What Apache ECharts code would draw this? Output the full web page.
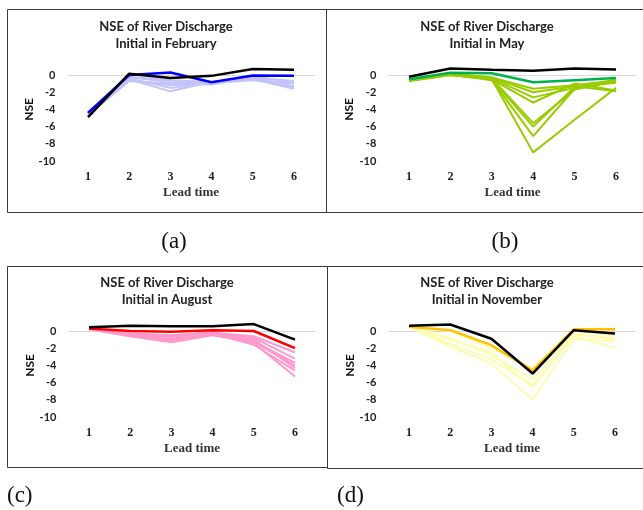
<!DOCTYPE html>
<html>
<head>
<meta charset="utf-8">
<script src="https://cdn.jsdelivr.net/npm/echarts@6/dist/echarts.min.js"></script>
<style>
html,body{margin:0;padding:0;background:#fff;}
#chart{width:643px;height:510px;}
</style>
</head>
<body>
<div id="chart"></div>
<script>
// ---------- data ----------
const categories = ['1', '2', '3', '4', '5', '6'];
const yTickLabels = [0, -2, -4, -6, -8, -10];

// (a) February
const febBlack = [-4.9, 0.15, -0.35, -0.1, 0.7, 0.6];
const febBlue = [-4.4, 0.0, 0.3, -0.85, -0.05, -0.1];
const febMember1 = [-4.4, -0.3, -0.8, -0.9, -0.3, -0.7];
const febMember2 = [-4.5, -0.5, -1.9, -0.8, -0.5, -1.6];
const febMember3 = [-4.6, -0.6, -1.2, -1.0, -0.4, -1.3];
const febMember4 = [-4.3, -0.4, -1.5, -0.9, -0.6, -1.0];
const febMember5 = [-4.7, -0.7, -1.0, -1.1, -0.3, -1.4];
const febMember6 = [-4.5, -0.2, -0.6, -0.8, -0.2, -0.9];

// (b) May
const mayBlack = [-0.2, 0.75, 0.6, 0.5, 0.75, 0.65];
const mayGreen = [-0.5, 0.25, 0.2, -0.85, -0.6, -0.35];
const mayMember1 = [-0.6, 0.1, -0.3, -1.6, -1.2, -0.6];
const mayMember2 = [-0.7, 0.0, -0.4, -2.6, -1.5, -0.8];
const mayMember3 = [-0.6, 0.2, -0.5, -3.2, -1.0, -1.8];
const mayMember4 = [-0.5, 0.1, -0.4, -5.6, -1.7, -0.7];
const mayMember5 = [-0.7, 0.0, -0.5, -6.0, -1.4, -0.9];
const mayMember6 = [-0.6, 0.1, -0.6, -7.1, -1.6, -0.5];
const mayMember7 = [-0.6, 0.0, -0.5, -9.0, -5.2, -1.5];
const mayMember8 = [-0.5, 0.2, -0.3, -2.0, -1.3, -1.9];

// (c) August
const augBlack = [0.45, 0.6, 0.55, 0.55, 0.8, -1.0];
const augRed = [0.3, 0.0, -0.1, 0.1, 0.0, -2.0];
const augMember1 = [0.3, -0.3, -0.5, -0.2, -0.6, -2.5];
const augMember2 = [0.3, -0.5, -1.2, -0.3, -1.4, -5.3];
const augMember3 = [0.3, -0.6, -0.9, -0.4, -1.0, -4.3];
const augMember4 = [0.2, -0.4, -0.7, -0.1, -1.2, -3.7];
const augMember5 = [0.3, -0.5, -1.0, -0.3, -1.6, -4.6];
const augMember6 = [0.3, -0.3, -0.6, -0.2, -0.8, -3.2];
const augMember7 = [0.2, -0.6, -1.3, -0.5, -1.3, -4.0];

// (d) November
const novBlack = [0.6, 0.75, -0.9, -4.95, 0.1, -0.3];
const novGold = [0.5, 0.1, -1.65, -4.6, 0.2, 0.2];
const novMember1 = [0.5, 0.0, -2.0, -4.3, 0.0, -0.5];
const novMember2 = [0.5, -0.8, -2.8, -5.6, -0.3, -1.0];
const novMember3 = [0.5, -1.5, -3.3, -6.3, -0.6, -2.0];
const novMember4 = [0.5, -1.8, -3.8, -8.0, -0.9, -1.2];
const novMember5 = [0.5, -1.0, -2.5, -6.6, -0.4, -0.8];

const panelTitles = [
  'NSE of River Discharge\nInitial in February',
  'NSE of River Discharge\nInitial in May',
  'NSE of River Discharge\nInitial in August',
  'NSE of River Discharge\nInitial in November'
];
const captions = ['(a)', '(b)', '(c)', '(d)'];

// ---------- layout / styles ----------
const panels = [
  {grid: {left: 67.4, top: 57.8, width: 247.2, height: 103.2}, box: [7, 9, 319, 203], titleX: 166, titleY: 18, cap: [174, 242], capAlign: 'center',
   main: febBlue, black: febBlack, members: [febMember1, febMember2, febMember3, febMember4, febMember5, febMember6],
   mainColor: '#0000ff', memberColor: '#c3c3fa'},
  {grid: {left: 388.3, top: 57.8, width: 248.4, height: 103.2}, box: [326, 9, 330, 203], titleX: 487, titleY: 18, cap: [505, 242], capAlign: 'center',
   main: mayGreen, black: mayBlack, members: [mayMember1, mayMember2, mayMember3, mayMember4, mayMember5, mayMember6, mayMember7, mayMember8],
   mainColor: '#00b050', memberColor: '#99cc00'},
  {grid: {left: 68.4, top: 313.8, width: 247.2, height: 103.2}, box: [7, 266, 320, 201], titleX: 167, titleY: 274, cap: [7, 496], capAlign: 'left',
   main: augRed, black: augBlack, members: [augMember1, augMember2, augMember3, augMember4, augMember5, augMember6, augMember7],
   mainColor: '#ff0000', memberColor: '#ff99cc'},
  {grid: {left: 388.4, top: 313.8, width: 247.2, height: 103.2}, box: [327, 266, 330, 202], titleX: 487, titleY: 274, cap: [337, 496], capAlign: 'left',
   main: novGold, black: novBlack, members: [novMember1, novMember2, novMember3, novMember4, novMember5],
   mainColor: '#ffc000', memberColor: '#fffbb0'}
];

const grids = [], xAxes = [], yAxes = [], series = [], graphics = [];

panels.forEach((p, i) => {
  grids.push(Object.assign({containLabel: false}, p.grid));
  xAxes.push({
    type: 'category', gridIndex: i, data: categories, boundaryGap: true,
    axisLine: {show: false}, axisTick: {show: false}, splitLine: {show: false},
    axisLabel: {margin: 10, fontFamily: 'Liberation Serif', fontWeight: 'bold', fontSize: 12, color: '#222'},
    name: 'Lead time', nameLocation: 'middle', nameGap: 25,
    nameTextStyle: {fontFamily: 'Liberation Serif', fontWeight: 'bold', fontSize: 13, color: '#333'}
  });
  yAxes.push({
    type: 'value', gridIndex: i, min: -10, max: 2, interval: 2,
    axisLine: {show: false}, axisTick: {show: false}, splitLine: {show: false},
    axisLabel: {
      margin: 12, fontFamily: 'Lato', fontWeight: 'bold', fontSize: 11, color: '#222',
      formatter: v => (yTickLabels.indexOf(v) >= 0 ? String(v) : '')
    },
    name: 'NSE', nameLocation: 'middle', nameRotate: 90, nameGap: 32,
    nameTextStyle: {fontFamily: 'Lato', fontWeight: 'bold', fontSize: 12, color: '#111'}
  });
  p.members.forEach((m, k) => {
    const s = {
      type: 'line', xAxisIndex: i, yAxisIndex: i, data: m, symbol: 'none', silent: true,
      lineStyle: {color: p.memberColor, width: 2}, z: 2
    };
    if (k === 0) {
      s.markLine = {
        silent: true, symbol: 'none', label: {show: false},
        lineStyle: {color: '#d9d9d9', width: 1, type: 'solid'},
        data: [{yAxis: 0}], z: 1
      };
    }
    series.push(s);
  });
  series.push({type: 'line', xAxisIndex: i, yAxisIndex: i, data: p.main, symbol: 'none',
    lineStyle: {color: p.mainColor, width: 2.5}, z: 3});
  series.push({type: 'line', xAxisIndex: i, yAxisIndex: i, data: p.black, symbol: 'none',
    lineStyle: {color: '#000', width: 2.5}, z: 4});

  graphics.push({type: 'rect', shape: {x: p.box[0] + 0.5, y: p.box[1] + 0.5, width: p.box[2], height: p.box[3]},
    style: {fill: null, stroke: '#3a3a3a', lineWidth: 1}, silent: true});
  graphics.push({type: 'text', x: p.titleX, y: p.titleY,
    style: {text: panelTitles[i], align: 'center', verticalAlign: 'top', lineHeight: 17,
      font: 'bold 13px Lato', fill: '#222'}});
  graphics.push({type: 'text', x: p.cap[0], y: p.cap[1],
    style: {text: captions[i], align: p.capAlign, verticalAlign: 'middle',
      font: '23px "Liberation Serif"', fill: '#111'}});
});

const chart = echarts.init(document.getElementById('chart'), null, {renderer: 'canvas'});
chart.setOption({
  animation: false,
  backgroundColor: '#fff',
  grid: grids, xAxis: xAxes, yAxis: yAxes, series: series,
  graphic: {elements: graphics}
});
</script>
</body>
</html>
